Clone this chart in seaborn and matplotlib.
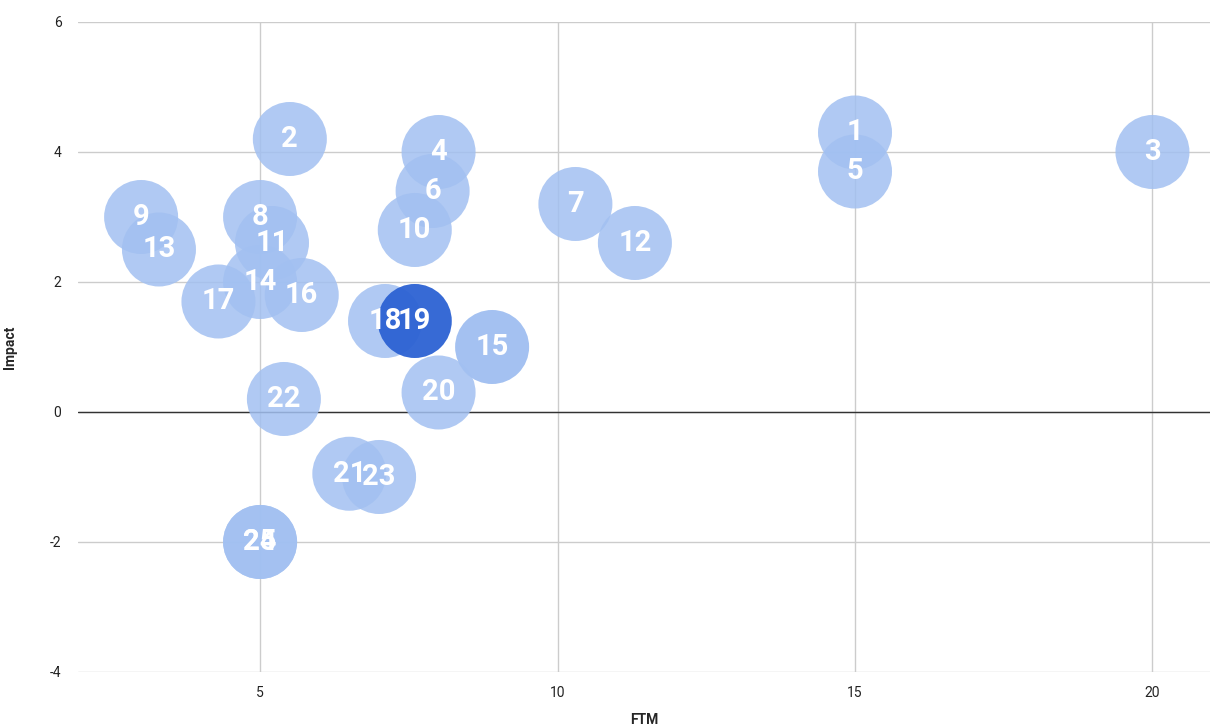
import matplotlib
matplotlib.use("Agg")
import matplotlib.pyplot as plt
import seaborn as sns
import pandas as pd

labels = ["1", "2", "3", "4", "5", "6", "7", "8", "9", "10", "11", "12", "13",
          "14", "15", "16", "17", "18", "19", "20", "21", "22", "23", "24", "25"]
ftm = [15, 5.5, 20, 8, 15, 7.9, 10.3, 5, 3, 7.6, 5.2, 11.3, 3.3,
       5, 8.9, 5.7, 4.3, 7.1, 7.6, 8.0, 6.5, 5.4, 7.0, 5, 5]
impact = [4.3, 4.2, 4.0, 4.0, 3.7, 3.4, 3.2, 3.0, 3.0, 2.8, 2.6, 2.6, 2.5,
          2.0, 1.0, 1.8, 1.7, 1.4, 1.4, 0.3, -0.95, 0.2, -1.0, -2.0, -2.0]
highlight = "19"
hovered = "15"

x_ticks = [5, 10, 15, 20]
y_ticks = [-4, -2, 0, 2, 4, 6]

df = pd.DataFrame({"FTM": ftm, "Impact": impact, "label": labels})

sns.set_style("white")
plt.rcParams["font.family"] = ["Roboto", "DejaVu Sans"]

fig = plt.figure(figsize=(12.12, 7.26), dpi=100)
ax = fig.add_axes([0.0644, 0.0744, 0.9336, 0.8953])

base = df[(df["label"] != highlight) & (df["label"] != hovered)]
hov = df[df["label"] == hovered]
sel = df[df["label"] == highlight]
sns.scatterplot(data=base, x="FTM", y="Impact", s=2840, color="#a2c0f1",
                alpha=0.85, edgecolor="none", linewidth=0, ax=ax, zorder=3)
sns.scatterplot(data=hov, x="FTM", y="Impact", s=2840, color="#a2c0f1",
                alpha=0.98, edgecolor="none", linewidth=0, ax=ax, zorder=3)
sns.scatterplot(data=sel, x="FTM", y="Impact", s=2840, color="#2c62d3",
                alpha=0.95, edgecolor="none", linewidth=0, ax=ax, zorder=3)

for _, r in df.iterrows():
    ax.text(r["FTM"], r["Impact"], r["label"], ha="center", va="center",
            color="white", fontsize=21, fontweight="bold", zorder=5,
            family=["Roboto", "DejaVu Sans"])

ax.set_xlim(1.94, 20.96)
ax.set_ylim(-4, 6)
ax.set_xticks(x_ticks)
ax.set_yticks(y_ticks)
ax.set_xticklabels([str(t) for t in x_ticks])
ax.set_yticklabels([str(t) for t in y_ticks])
ax.grid(True, color="#cccccc", linewidth=1)
ax.set_axisbelow(True)
ax.axhline(0, color="#333333", linewidth=1, zorder=2)
for s in ax.spines.values():
    s.set_visible(False)
ax.tick_params(axis="both", length=0, labelsize=10, colors="#222222")
ax.tick_params(axis="y", pad=12)
ax.tick_params(axis="x", pad=10)
ax.set_xlabel("FTM", fontsize=10, fontweight="bold")
ax.set_ylabel("Impact", fontsize=10, fontweight="bold")
ax.xaxis.set_label_coords(0.5, -0.063)
ax.yaxis.set_label_coords(-0.054, 0.5)

fig.savefig("out.png", dpi=100)
